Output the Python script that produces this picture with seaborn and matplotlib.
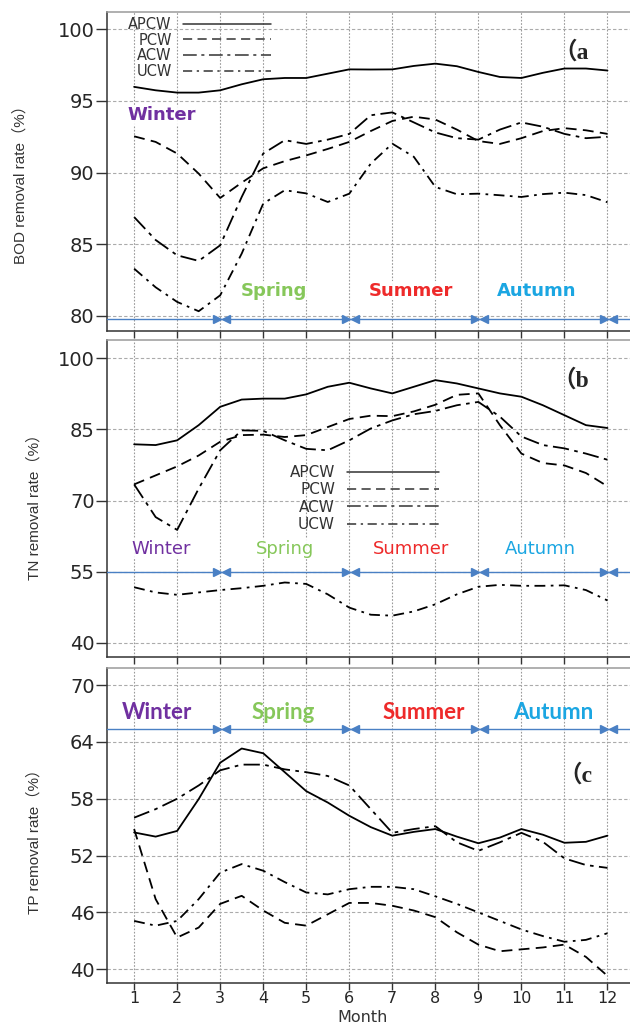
import numpy as np
import pandas as pd
import matplotlib
matplotlib.use("Agg")
import matplotlib.pyplot as plt
from matplotlib.lines import Line2D
import seaborn as sns

# half-month sampling
months = np.arange(1, 12.5, 0.5)
systems = ["APCW", "PCW", "ACW", "UCW"]

# (a) BOD removal rate (%)
bod_apcw = [95.98, 95.74, 95.58, 95.58, 95.74, 96.16, 96.51, 96.6, 96.6, 96.9, 97.2, 97.19,
            97.2, 97.44, 97.6, 97.42, 97.02, 96.67, 96.6, 96.96, 97.26, 97.26, 97.12]
bod_pcw = [92.53, 92.14, 91.33, 89.93, 88.23, 89.3, 90.3, 90.8, 91.2, 91.65, 92.14, 92.9,
           93.6, 93.9, 93.7, 93.0, 92.2, 92.0, 92.4, 92.9, 93.1, 92.95, 92.7]
bod_acw = [86.9, 85.3, 84.23, 83.84, 84.93, 88.3, 91.33, 92.26, 92.0, 92.3, 92.7, 94.0,
           94.2, 93.5, 92.8, 92.4, 92.3, 93.0, 93.5, 93.2, 92.7, 92.4, 92.5]
bod_ucw = [83.3, 82.0, 80.98, 80.33, 81.44, 84.35, 87.84, 88.77, 88.55, 87.95, 88.53, 90.63,
           92.02, 91.1, 89.0, 88.49, 88.53, 88.42, 88.3, 88.5, 88.6, 88.43, 87.93]

# (b) TN removal rate (%)
tn_apcw = [81.86, 81.7, 82.7, 85.9, 89.77, 91.3, 91.5, 91.5, 92.4, 94.0, 94.85, 93.65,
           92.6, 94.0, 95.4, 94.7, 93.65, 92.6, 91.9, 90.1, 88.0, 85.9, 85.3]
tn_pcw = [73.4, 75.3, 77.2, 79.5, 82.4, 83.8, 83.9, 83.4, 83.8, 85.5, 87.2, 87.9,
          87.8, 88.8, 90.2, 92.3, 92.6, 85.9, 79.9, 77.9, 77.4, 75.8, 73.0]
tn_acw = [73.4, 66.5, 63.8, 72.5, 80.6, 84.8, 84.7, 82.7, 80.9, 80.6, 82.7, 85.2,
          86.9, 88.2, 88.9, 90.1, 90.8, 87.7, 83.5, 81.7, 81.0, 79.9, 78.6]
tn_ucw = [51.7, 50.6, 50.1, 50.6, 51.1, 51.5, 52.0, 52.7, 52.4, 50.2, 47.4, 45.9,
          45.7, 46.6, 48.1, 50.2, 51.8, 52.2, 52.0, 52.0, 52.1, 51.1, 48.9]

# (c) TP removal rate (%)
tp_apcw = [54.44, 54.0, 54.6, 57.96, 61.8, 63.3, 62.8, 60.8, 58.8, 57.6, 56.2, 55.0,
           54.1, 54.5, 54.8, 54.0, 53.3, 53.9, 54.8, 54.2, 53.35, 53.45, 54.1]
tp_pcw = [54.8, 47.4, 43.35, 44.4, 46.9, 47.75, 46.2, 44.9, 44.6, 45.8, 47.0, 47.0,
          46.7, 46.2, 45.5, 43.9, 42.6, 41.9, 42.1, 42.3, 42.6, 41.3, 39.3]
tp_acw = [56.0, 56.9, 58.0, 59.4, 61.0, 61.6, 61.6, 61.1, 60.8, 60.4, 59.4, 56.9,
          54.4, 54.8, 55.1, 53.4, 52.5, 53.4, 54.4, 53.45, 51.7, 51.0, 50.7]
tp_ucw = [45.1, 44.6, 45.1, 47.4, 50.2, 51.1, 50.4, 49.2, 48.1, 47.9, 48.45, 48.7,
          48.7, 48.45, 47.7, 46.9, 46.0, 45.1, 44.2, 43.5, 42.9, 43.1, 43.8]

seasons = ["Winter", "Spring", "Summer", "Autumn"]
season_colors = ["#7030a0", "#86c75a", "#ee2a2a", "#1ba6e2"]
season_ends = [3, 6, 9, 12]

sns.set_style("white")
plt.rcParams["font.family"] = ["DejaVu Sans", "Noto Sans CJK SC"]

dashes = {"APCW": "", "PCW": (6, 3.5), "ACW": (9, 3, 2, 3), "UCW": (6, 3, 1.5, 3)}
arrow_blue = "#4a80c4"
XLIM = (0.372, 12.67)

fig = plt.figure(figsize=(6.3, 10.28), dpi=100)
ax_a = fig.add_axes([0.170, 0.678, 0.84, 0.3103])
ax_b = fig.add_axes([0.170, 0.361, 0.84, 0.3084])
ax_c = fig.add_axes([0.170, 0.0438, 0.84, 0.3064])


def long_table(a, p, c, u):
    frames = []
    for name, vals in zip(systems, [a, p, c, u]):
        frames.append(pd.DataFrame({"month": months, "rate": vals, "system": name}))
    return pd.concat(frames, ignore_index=True)


def base_axes(ax, ylim, yticks):
    ax.set_xlim(*XLIM)
    ax.set_ylim(*ylim)
    ax.set_yticks(yticks)
    ax.set_xticks(range(1, 13))
    ax.grid(axis="x", color="#9a9a9a", linestyle=(0, (1.5, 1.5)), linewidth=0.8)
    ax.grid(axis="y", color="#ababab", linestyle=(0, (3, 2)), linewidth=0.8)
    ax.spines["right"].set_visible(False)
    ax.spines["top"].set_color("#9a9a9a")
    ax.spines["left"].set_color("#333333")
    ax.spines["bottom"].set_color("#333333")
    for s in ["left", "bottom", "top"]:
        ax.spines[s].set_linewidth(1.1)
    ax.tick_params(axis="y", length=8, width=1, color="#333333", labelsize=14, pad=1,
                   left=True)
    ax.tick_params(axis="x", length=5, width=1, color="#333333", labelsize=11.5, pad=1,
                   bottom=True)


def season_arrows(ax, y):
    ax.axhline(y, color=arrow_blue, linewidth=1.0, zorder=3)
    for m in season_ends:
        ax.plot(m - 0.08, y, marker=">", ms=5.5, color=arrow_blue, zorder=4, clip_on=False)
        ax.plot(m + 0.14, y, marker="<", ms=5.5, color=arrow_blue, zorder=4, clip_on=False)


def draw_lines(ax, df):
    sns.lineplot(data=df, x="month", y="rate", style="system", style_order=systems,
                 dashes=dashes, color="black", linewidth=1.3, legend=False, ax=ax,
                 zorder=5)


def add_legend(ax, anchor, fontsize, handlelength, spacing):
    handles = [Line2D([], [], color="#333333", linewidth=1.1)]
    for s in systems[1:]:
        handles.append(Line2D([], [], color="#333333", linewidth=1.1, dashes=dashes[s]))
    leg = ax.legend(handles, systems, markerfirst=False, frameon=False, loc="upper left",
                    bbox_to_anchor=anchor, fontsize=fontsize, handlelength=handlelength,
                    handletextpad=0.8, labelspacing=spacing, borderpad=0, borderaxespad=0)
    for t in leg.get_texts():
        t.set_color("#333333")
    return leg


# ---- panel a: BOD
draw_lines(ax_a, long_table(bod_apcw, bod_pcw, bod_acw, bod_ucw))
base_axes(ax_a, (78.95, 101.2), [80, 85, 90, 95, 100])
season_arrows(ax_a, 79.76)
season_pos_a = [(1.65, 94.0), (4.26, 81.76), (7.43, 81.76), (10.35, 81.76)]
for name, col, (sx, sy) in zip(seasons, season_colors, season_pos_a):
    ax_a.text(sx, sy, name, color=col, fontsize=13, fontweight="bold", ha="center",
              va="center", zorder=6,
              bbox=dict(facecolor="white", edgecolor="none", pad=0.5, alpha=0.9))
add_legend(ax_a, (0.04, 0.985), 10.5, 6.0, 0.05)
ax_a.text(10.75, 98.4, "（a", fontsize=17, fontweight="bold",
          family=["Liberation Serif", "Noto Sans CJK SC"], ha="left", va="center")
ax_a.set_xlabel("")
ax_a.set_ylabel("BOD removal rate（%）", fontsize=11, color="#333333",
                family=["Liberation Sans", "Noto Sans CJK SC"])
ax_a.yaxis.set_label_coords(-0.1645, 0.47)
ax_a.tick_params(axis="x", labelbottom=False)

# ---- panel b: TN
draw_lines(ax_b, long_table(tn_apcw, tn_pcw, tn_acw, tn_ucw))
base_axes(ax_b, (37.0, 103.9), [40, 55, 70, 85, 100])
season_arrows(ax_b, 55.0)
season_pos_b = [(1.62, 59.8), (4.51, 59.8), (7.43, 59.8), (10.45, 59.8)]
for name, col, (sx, sy) in zip(seasons, season_colors, season_pos_b):
    ax_b.text(sx, sy, name, color=col, fontsize=13, ha="center", va="center", zorder=6,
              bbox=dict(facecolor="white", edgecolor="none", pad=0.5, alpha=0.9))
add_legend(ax_b, (0.345, 0.605), 11, 6.0, 0.15)
ax_b.text(10.72, 95.4, "（b", fontsize=17, fontweight="bold",
          family=["Liberation Serif", "Noto Sans CJK SC"], ha="left", va="center")
ax_b.set_xlabel("")
ax_b.set_ylabel("TN removal rate（%）", fontsize=11, color="#333333",
                family=["Liberation Sans", "Noto Sans CJK SC"])
ax_b.yaxis.set_label_coords(-0.138, 0.486)
ax_b.tick_params(axis="x", labelbottom=False)

# ---- panel c: TP
draw_lines(ax_c, long_table(tp_apcw, tp_pcw, tp_acw, tp_ucw))
base_axes(ax_c, (38.55, 71.8), [40, 46, 52, 58, 64, 70])
season_arrows(ax_c, 65.36)
season_pos_c = [(1.53, 67.1), (4.47, 67.1), (7.74, 67.1), (10.73, 67.1)]
for name, col, (sx, sy) in zip(seasons, season_colors, season_pos_c):
    ax_c.text(sx, sy, name, color=col, fontsize=16, fontweight="bold", family="Lato",
              ha="center", va="center", zorder=6)
ax_c.text(10.85, 60.5, "（c", fontsize=17, fontweight="bold",
          family=["Liberation Serif", "Noto Sans CJK SC"], ha="left", va="center")
ax_c.set_xlabel("Month", fontsize=11.5, color="#333333", va="center")
ax_c.xaxis.set_label_coords(0.482, -0.1095)
ax_c.set_ylabel("TP removal rate（%）", fontsize=11, color="#333333",
                family=["Liberation Sans", "Noto Sans CJK SC"])
ax_c.yaxis.set_label_coords(-0.138, 0.46)

for ax in (ax_a, ax_b, ax_c):
    ax.yaxis.label.set_va("center")

fig.savefig("out.png", dpi=100)
